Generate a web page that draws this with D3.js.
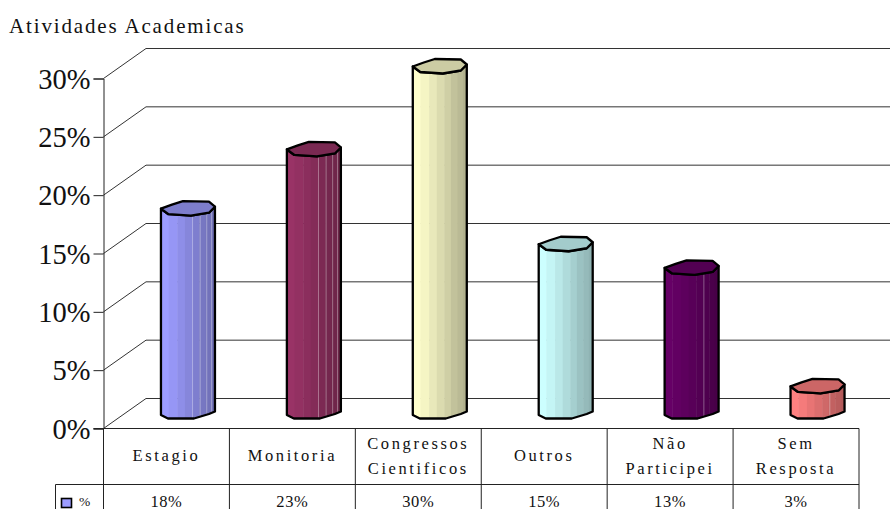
<!DOCTYPE html>
<html>
<head>
<meta charset="utf-8">
<script src="https://cdn.jsdelivr.net/npm/d3@7/dist/d3.min.js"></script>
<style>
html,body{margin:0;padding:0;background:#fff;overflow:hidden}
svg{display:block}
text{font-family:"Liberation Serif","Times New Roman",serif;fill:#111}
</style>
</head>
<body>
<svg id="chart" width="890" height="509"></svg>
<script>
// Chart content
const chartTitle = "Atividades Academicas";
const categories = ["Estagio", "Monitoria", "Congressos Cientificos", "Outros", "Não Participei", "Sem Resposta"];
const categoryLines = [["Estagio"], ["Monitoria"], ["Congressos", "Cientificos"], ["Outros"], ["Não", "Participei"], ["Sem", "Resposta"]];
const values = [18, 23, 30, 15, 13, 3];
const barColors = ["#9c9cff", "#993366", "#ffffcc", "#ccffff", "#660066", "#ff8080"];
const axisTicks = [0, 5, 10, 15, 20, 25, 30];
const seriesName = "%";

// Layout
const width = 890, height = 509;
const plot = { left: 103.5, right: 859, top: 78.5, bottom: 428.5, depthX: 42.5, depthY: 30 };
const rowSplit = 484.5, legendLeft = 55.5;
const barW = 54.5;

const svg = d3.select("#chart");
const y = d3.scaleLinear().domain([0, 30]).range([plot.bottom, plot.top]);
const x = d3.scaleBand().domain(categories).range([plot.left, plot.right]);
// Cylinder tops sit on their own slightly steeper scale inside the 3D box
const yBar = d3.scaleLinear().domain([0, 30]).range([422, 66.5]);
const floorY = 415;

// Back-wall gridlines and side-wall diagonals
const grid = svg.append("g").attr("stroke", "#333").attr("stroke-width", 1).attr("fill", "none");
grid.selectAll("polyline").data(axisTicks).join("polyline")
  .attr("points", d => [
    [plot.left, y(d)],
    [plot.left + plot.depthX, y(d) - plot.depthY],
    [width, y(d) - plot.depthY]
  ].join(" "));

// Y axis with outward ticks
const axis = d3.axisLeft(y).tickValues(axisTicks).tickFormat(d => d + "%").tickSize(10).tickPadding(3);
const axisG = svg.append("g").attr("transform", `translate(${plot.left},0)`).call(axis);
axisG.select(".domain").attr("stroke", "#222");
axisG.selectAll(".tick line").attr("stroke", "#222");
axisG.selectAll(".tick text")
  .attr("font-family", '"Liberation Serif",serif')
  .attr("font-size", 28.5)
  .attr("dy", "0.34em")
  .style("fill", "#111");

// Faceted cylinder outline, relative to the left corner of its top face
const topFace = [[0,0],[7.5,5.5],[30,7],[48,4],[54,-2],[48,-7],[22,-7.5],[11,-4]];
const bottomEdge = [[54,-3.5],[48,-1],[33,3.5],[7,3.5],[0,0]];
// Shading stripes across the front of the cylinder
const stripeEdges = [0, .14, .3, .44, .58, .7, .82, .92, 1];
const stripeShade = [0, .04, .09, .14, .19, .24, .27, .3];
// Pale seams left between some of the shading stripes
const seamEdges = [[.58, .72, .84, .93], [.58, .72, .84, .93], [], [], [.72], [.72]];

const bars = svg.append("g").selectAll("g").data(values).join("g")
  .attr("transform", (d, i) => `translate(${x(categories[i]) + x.bandwidth() / 2 + plot.depthX / 2 - barW / 2 + 0.5},0)`);

bars.each(function (v, i) {
  const g = d3.select(this);
  const top = yBar(v);
  const base = barColors[i];
  const line = d3.line();
  const front = [[0, top], ...topFace.slice(1, 5).map(p => [p[0], p[1] + top]),
                 ...bottomEdge.map(p => [p[0], p[1] + floorY])];
  const clipId = "body" + i;
  g.append("clipPath").attr("id", clipId).append("path").attr("d", line(front) + "Z");

  const body = g.append("g").attr("clip-path", `url(#${clipId})`);
  body.selectAll("rect").data(stripeShade).join("rect")
    .attr("x", (d, k) => stripeEdges[k] * barW)
    .attr("width", (d, k) => (stripeEdges[k + 1] - stripeEdges[k]) * barW + 0.5)
    .attr("y", top - 10)
    .attr("height", floorY - top + 20)
    .attr("fill", d => d3.interpolateRgb(base, "#000")(d));
  body.selectAll("line").data(seamEdges[i]).join("line")
    .attr("x1", d => d * barW).attr("x2", d => d * barW)
    .attr("y1", top - 10).attr("y2", floorY + 10)
    .attr("stroke", "#fff").attr("stroke-opacity", 0.35).attr("stroke-width", 1);

  g.append("path")
    .attr("d", line(front) + "Z")
    .attr("fill", "none").attr("stroke", "#000").attr("stroke-width", 2.3).attr("stroke-linejoin", "round");

  g.append("path")
    .attr("d", line(topFace.map(p => [p[0], p[1] + top])) + "Z")
    .attr("fill", d3.interpolateRgb(base, "#000")(0.2))
    .attr("stroke", "#000").attr("stroke-width", 2.3).attr("stroke-linejoin", "round");
});

// Data table under the plot
const table = svg.append("g").attr("stroke", "#222").attr("stroke-width", 1).attr("fill", "none");
table.append("line").attr("x1", plot.left - 10).attr("x2", plot.right).attr("y1", plot.bottom).attr("y2", plot.bottom);
table.append("line").attr("x1", legendLeft).attr("x2", plot.right).attr("y1", rowSplit).attr("y2", rowSplit);
table.append("line").attr("x1", legendLeft).attr("x2", legendLeft).attr("y1", rowSplit).attr("y2", height);
const columnEdges = [...categories.map(c => x(c)), plot.right];
table.selectAll("line.col").data(columnEdges).join("line").attr("class", "col")
  .attr("x1", d => d).attr("x2", d => d).attr("y1", plot.bottom).attr("y2", height);

const labels = svg.append("g").attr("text-anchor", "middle").attr("font-size", 16.5).attr("letter-spacing", 2.6);
categoryLines.forEach((lines, i) => {
  const cx = x(categories[i]) + x.bandwidth() / 2;
  const start = lines.length === 1 ? 461 : 449;
  lines.forEach((t, k) => labels.append("text").attr("x", cx).attr("y", start + k * 24.5).text(t));
});
labels.selectAll("text.val").data(values).join("text").attr("class", "val")
  .attr("x", (d, i) => x(categories[i]) + x.bandwidth() / 2)
  .attr("y", 506.5)
  .attr("letter-spacing", 0.6)
  .text(d => d + "%");

// Legend key in the table's left column
svg.append("rect").attr("x", 61.5).attr("y", 498.5).attr("width", 10).attr("height", 9)
  .attr("fill", barColors[0]).attr("stroke", "#000").attr("stroke-width", 1.6);
svg.append("text").attr("x", 79).attr("y", 505.5).attr("font-size", 13.5).text(seriesName);

// Title
svg.append("text").attr("x", 9).attr("y", 33).attr("font-size", 21).attr("letter-spacing", 1.85).text(chartTitle);
</script>
</body>
</html>
